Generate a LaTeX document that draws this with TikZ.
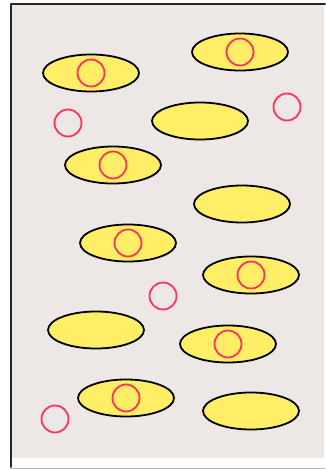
\documentclass[tikz,border=0pt]{standalone}
\usetikzlibrary{shapes.geometric}

\definecolor{paneback}{HTML}{EDE8E6}
\definecolor{cellfill}{HTML}{FFEE66}
\definecolor{ringred}{HTML}{FF3358}

\tikzset{
  cell/.style={ellipse, draw=black, fill=cellfill, line width=1.8pt,
    minimum width=96pt, minimum height=37pt, inner sep=0pt},
  ring/.style={circle, draw=ringred, line width=1.8pt,
    minimum size=27pt, inner sep=0pt}
}

\begin{document}
\begin{tikzpicture}[x=1pt, y=-1pt, line cap=round, line join=round]

% --- Canvas ---
\useasboundingbox (0,0) rectangle (325,469);
\fill[white] (0,0) rectangle (325,469);
\fill[paneback] (11,5) rectangle (324,458);
\draw[black!85, line width=1.8pt] (11,4) -- (325,4);
\draw[black!85, line width=1.8pt] (11,4) -- (11,467);
\draw[gray!60, line width=1pt] (11,468) -- (325,468);

% --- Cells (yellow ellipses) ---
\node[cell] (c1)  at (91,73)   {};
\node[cell] (c2)  at (240,52)  {};
\node[cell] (c3)  at (200,121) {};
\node[cell] (c4)  at (113,165) {};
\node[cell] (c5)  at (242,204) {};
\node[cell] (c6)  at (128,243) {};
\node[cell] (c7)  at (251,275) {};
\node[cell] (c8)  at (96,330)  {};
\node[cell] (c9)  at (228,344) {};
\node[cell] (c10) at (126,398) {};
\node[cell] (c11) at (251,411) {};

% --- Rings inside cells ---
\node[ring] (r1)  at (c1)  {};
\node[ring] (r2)  at (c2)  {};
\node[ring] (r4)  at (c4)  {};
\node[ring] (r6)  at (c6)  {};
\node[ring] (r7)  at (c7)  {};
\node[ring] (r9)  at (c9)  {};
\node[ring] (r10) at (c10) {};

% --- Free rings ---
\node[ring] (f1) at (68,123)  {};
\node[ring] (f2) at (287,107) {};
\node[ring] (f3) at (163,296) {};
\node[ring] (f4) at (55,419)  {};

\end{tikzpicture}
\end{document}
